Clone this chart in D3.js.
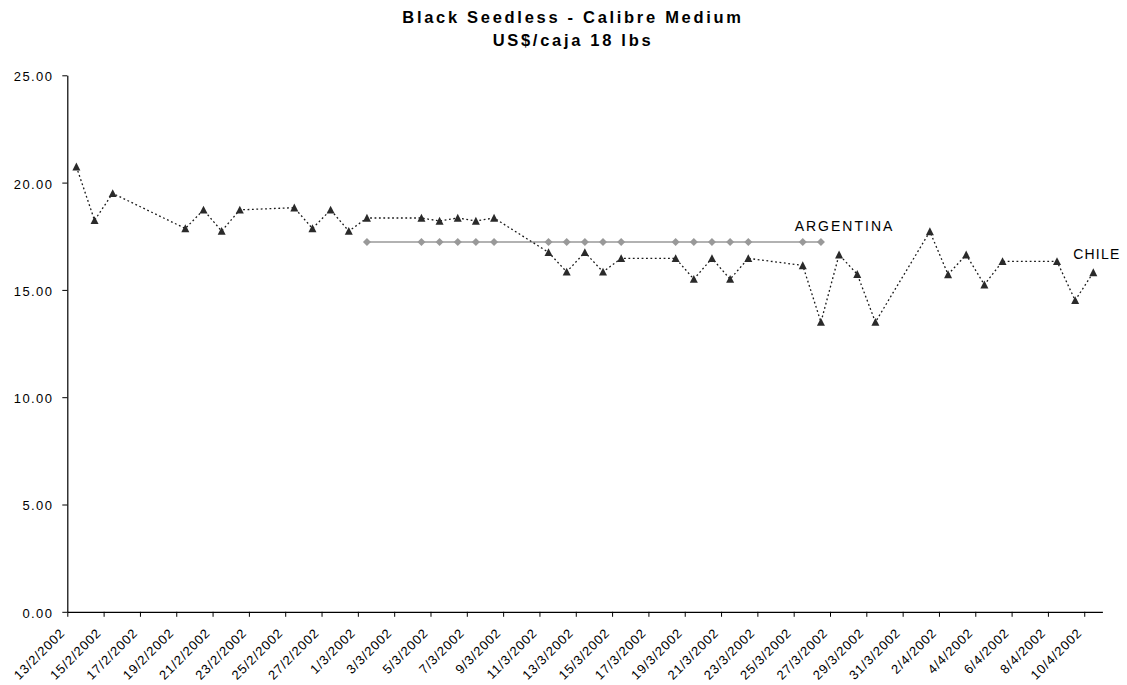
<!DOCTYPE html>
<html>
<head>
<meta charset="utf-8">
<script src="https://cdn.jsdelivr.net/npm/d3@7"></script>
<style>
  html, body { margin: 0; padding: 0; background: #fff; }
  svg { display: block; font-family: "Liberation Sans", Arial, sans-serif; }
</style>
</head>
<body>
<svg id="chart" width="1127" height="685"></svg>
<script>
// ---- data ----
const titleLines = ["Black Seedless - Calibre Medium", "US$/caja 18 lbs"];

const chileDates = ["13/2","14/2","15/2","19/2","20/2","21/2","22/2","25/2","26/2","27/2","28/2",
  "1/3","4/3","5/3","6/3","7/3","8/3","11/3","12/3","13/3","14/3","15/3","18/3","19/3","20/3",
  "21/3","22/3","25/3","26/3","27/3","28/3","29/3","1/4","2/4","3/4","4/4","5/4","8/4","9/4","10/4"];
const chileValues = [20.74, 18.24, 19.50, 17.86, 18.73, 17.74, 18.73, 18.83, 17.86, 18.73, 17.74,
  18.35, 18.35, 18.21, 18.35, 18.21, 18.35, 16.75, 15.84, 16.75, 15.84, 16.47, 16.47, 15.50, 16.47,
  15.50, 16.47, 16.14, 13.50, 16.64, 15.73, 13.50, 17.72, 15.72, 16.64, 15.24, 16.33, 16.33, 14.51, 15.81];

const argDates = ["1/3","4/3","5/3","6/3","7/3","8/3","11/3","12/3","13/3","14/3","15/3",
  "18/3","19/3","20/3","21/3","22/3","25/3","26/3"];
const argValues = [17.23, 17.23, 17.23, 17.23, 17.23, 17.23, 17.23, 17.23, 17.23, 17.23, 17.23,
  17.23, 17.23, 17.23, 17.23, 17.23, 17.23, 17.23];

const xTickLabels = ["13/2/2002","15/2/2002","17/2/2002","19/2/2002","21/2/2002","23/2/2002",
  "25/2/2002","27/2/2002","1/3/2002","3/3/2002","5/3/2002","7/3/2002","9/3/2002","11/3/2002",
  "13/3/2002","15/3/2002","17/3/2002","19/3/2002","21/3/2002","23/3/2002","25/3/2002","27/3/2002",
  "29/3/2002","31/3/2002","2/4/2002","4/4/2002","6/4/2002","8/4/2002","10/4/2002"];
const yTicks = [0, 5, 10, 15, 20, 25];
const xDomain = ["13/2/2002", "11/4/2002"];

// ---- helpers ----
function parseDM(s) {
  const p = s.split("/").map(Number);
  return new Date(Date.UTC(p[2] || 2002, p[1] - 1, p[0]));
}
const DAY = 86400000;
const mid = d => new Date(d.getTime() + DAY / 2);

// ---- layout ----
const plotL = 67.3, plotR = 1102.4, plotT = 75.3, plotB = 611.8;

const svg = d3.select("#chart");

const x = d3.scaleUtc().domain(xDomain.map(parseDM)).range([plotL, plotR]);
const y = d3.scaleLinear().domain([0, 25]).range([plotB, plotT]);

// title
svg.append("text")
  .attr("x", 572).attr("y", 23)
  .attr("text-anchor", "middle")
  .style("font-weight", "bold").style("font-size", "16.5px").style("letter-spacing", "2.7px")
  .selectAll("tspan").data(titleLines).join("tspan")
  .attr("x", 573).attr("dy", (d, i) => i === 0 ? 0 : 22.5)
  .text(d => d);

// axes
const xAxis = d3.axisBottom(x)
  .tickValues(xTickLabels.map(parseDM))
  .tickFormat((d, i) => xTickLabels[i])
  .tickSize(5).tickSizeOuter(0);

const gx = svg.append("g").attr("transform", `translate(0,${plotB})`).call(xAxis);
gx.select(".domain").attr("stroke", "#000").attr("stroke-width", 1.2);
gx.selectAll(".tick line").attr("stroke", "#000");
gx.selectAll(".tick text")
  .attr("fill", "#000")
  .style("font-size", "13px").style("letter-spacing", "0.9px")
  .attr("text-anchor", "end")
  .attr("dy", null).attr("y", null)
  .attr("transform", "translate(-2,22) rotate(-45)");

const yAxis = d3.axisLeft(y)
  .tickValues(yTicks)
  .tickFormat(d3.format(".2f"))
  .tickSize(5).tickSizeOuter(0).tickPadding(9);
const gy = svg.append("g").attr("transform", `translate(${plotL},0)`).call(yAxis);
gy.select(".domain").attr("stroke", "#000").attr("stroke-width", 1.2);
gy.selectAll(".tick line").attr("stroke", "#000");
gy.selectAll(".tick text")
  .attr("fill", "#000")
  .style("font-size", "13px").style("letter-spacing", "1.4px")
  .attr("dy", "0.42em");

// series data
const chile = chileDates.map((d, i) => ({ date: mid(parseDM(d + "/2002")), v: chileValues[i] }));
const arg = argDates.map((d, i) => ({ date: mid(parseDM(d + "/2002")), v: argValues[i] }));

const line = d3.line().x(d => x(d.date)).y(d => y(d.v));

// Argentina series
svg.append("path").datum(arg)
  .attr("d", line).attr("fill", "none")
  .attr("stroke", "#999").attr("stroke-width", 1.5);
svg.append("g").selectAll("path").data(arg).join("path")
  .attr("transform", d => `translate(${x(d.date)},${y(d.v)})`)
  .attr("d", "M0,-4L4,0L0,4L-4,0Z")
  .attr("fill", "#999");

// Chile series
svg.append("path").datum(chile)
  .attr("d", line).attr("fill", "none")
  .attr("stroke", "#1a1a1a").attr("stroke-width", 1.3)
  .attr("stroke-dasharray", "1.8,2.6");
svg.append("g").selectAll("path").data(chile).join("path")
  .attr("transform", d => `translate(${x(d.date)},${y(d.v)})`)
  .attr("d", "M0,-4.2L4,3.7L-4,3.7Z")
  .attr("fill", "#2a2a2a");

// series labels
svg.append("text")
  .attr("x", x(parseDM("25/3/2002")) + 1).attr("y", y(argValues[argValues.length - 1]) - 11)
  .style("font-size", "14px").style("letter-spacing", "2px")
  .text("ARGENTINA");
svg.append("text")
  .attr("x", x(parseDM("10/4/2002")) - 11).attr("y", y(chileValues[chileValues.length - 1]) - 14)
  .style("font-size", "14px").style("letter-spacing", "1.2px")
  .text("CHILE");
</script>
</body>
</html>
